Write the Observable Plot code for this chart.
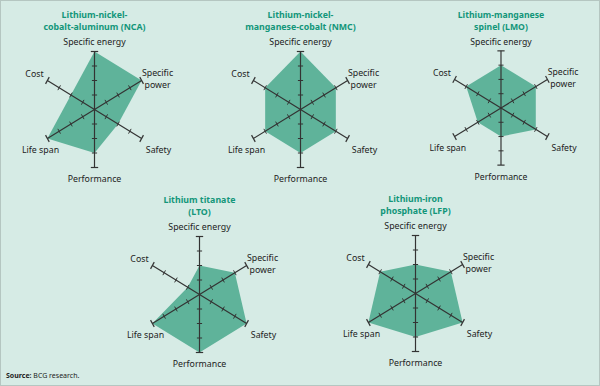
<!DOCTYPE html>
<html><head><meta charset="utf-8">
<script src="https://cdn.jsdelivr.net/npm/d3@7"></script>
<script src="https://cdn.jsdelivr.net/npm/@observablehq/plot@0.6"></script>
<style>
body{margin:0;background:#fff}
#wrap{position:relative;width:600px;height:386px;background:#d6ebe5;overflow:hidden;box-sizing:border-box;border:1px solid #b5c6c1;font-family:"Noto Sans",sans-serif}
.panel{position:absolute}
#source{position:absolute;left:5px;top:370px;font-size:7px;color:#222}
</style></head><body>
<div id="wrap"><div id="source"><b>Source:</b> BCG research.</div></div>
<script>
const axes = ["Specific energy", "Specific\npower", "Safety", "Performance", "Life span", "Cost"];
const titles = [
  "Lithium-nickel-\ncobalt-aluminum (NCA)",
  "Lithium-nickel-\nmanganese-cobalt (NMC)",
  "Lithium-manganese\nspinel (LMO)",
  "Lithium titanate\n(LTO)",
  "Lithium-iron\nphosphate (LFP)"
];
const nca = [4, 4, 2, 3, 4, 2];
const nmc = [4, 3, 3, 3, 3, 3];
const lmo = [3, 3, 3, 2, 2, 3];
const lto = [2, 3, 4, 4, 4, 1];
const lfp = [2, 3, 4, 3, 4, 3];
const tickLevels = [1, 2, 3];
const maxLevel = 4;

const series = [nca, nmc, lmo, lto, lfp];
const centers = [[93, 108], [299, 108], [501, 108], [198, 293], [414, 292]];
// label pixel offsets from panel center, per axis
const labelOffsets = [[0, -68], [63, -31], [64, 40], [0, 69], [-54, 40], [-60, -36]];

const W = 200, H = 200, kx = 13.6, ky = 14.5;
const wrap = document.getElementById("wrap");

function radar(vals, title) {
  const ang = i => i * Math.PI / 3;
  const pts = axes.map((a, i) => ({axis: a, value: vals[i], angle: ang(i)}));
  const spokes = axes.map((a, i) => ({angle: ang(i)}));
  const ticks = tickLevels.flatMap(l => axes.map((a, i) => ({level: l, angle: ang(i), h: 0.19})));
  const caps = axes.map((a, i) => ({level: maxLevel, angle: ang(i), h: 0.27}));
  const tx1 = d => d.level * Math.sin(d.angle) - d.h * Math.cos(d.angle);
  const ty1 = d => d.level * Math.cos(d.angle) + d.h * Math.sin(d.angle);
  const tx2 = d => d.level * Math.sin(d.angle) + d.h * Math.cos(d.angle);
  const ty2 = d => d.level * Math.cos(d.angle) - d.h * Math.sin(d.angle);
  const marks = [
    Plot.line(pts, {x: d => d.value * Math.sin(d.angle), y: d => d.value * Math.cos(d.angle),
      curve: "linear-closed", fill: "#5fb39a", stroke: "none"}),
    Plot.link(spokes, {x1: d => 0, y1: d => 0, x2: d => maxLevel * Math.sin(d.angle), y2: d => maxLevel * Math.cos(d.angle),
      stroke: "#333", strokeWidth: 1.2}),
    Plot.link(ticks, {x1: tx1, y1: ty1, x2: tx2, y2: ty2, stroke: "#333", strokeWidth: 1}),
    Plot.link(caps, {x1: tx1, y1: ty1, x2: tx2, y2: ty2, stroke: "#333", strokeWidth: 1.2}),
    Plot.text([title], {x: d => 0, y: d => 0, text: d => d, dy: -89, fill: "#13967a",
      fontWeight: "bold", fontSize: 8.8, lineHeight: 1.3})
  ];
  axes.forEach((a, i) => {
    marks.push(Plot.text([a], {x: d => 0, y: d => 0, text: d => d, dx: labelOffsets[i][0], dy: labelOffsets[i][1],
      fill: "#222", fontSize: 8.8, lineHeight: 1.3}));
  });
  return Plot.plot({
    width: W, height: H, margin: 0,
    x: {domain: [-W / 2 / kx, W / 2 / kx], axis: null},
    y: {domain: [-H / 2 / ky, H / 2 / ky], axis: null},
    style: {background: "transparent", overflow: "visible", fontFamily: "'Noto Sans', sans-serif"},
    marks
  });
}

series.forEach((vals, k) => {
  const el = radar(vals, titles[k]);
  const div = document.createElement("div");
  div.className = "panel";
  div.style.left = (centers[k][0] - W / 2) + "px";
  div.style.top = (centers[k][1] - H / 2) + "px";
  div.appendChild(el);
  wrap.appendChild(div);
});
</script>
</body></html>
